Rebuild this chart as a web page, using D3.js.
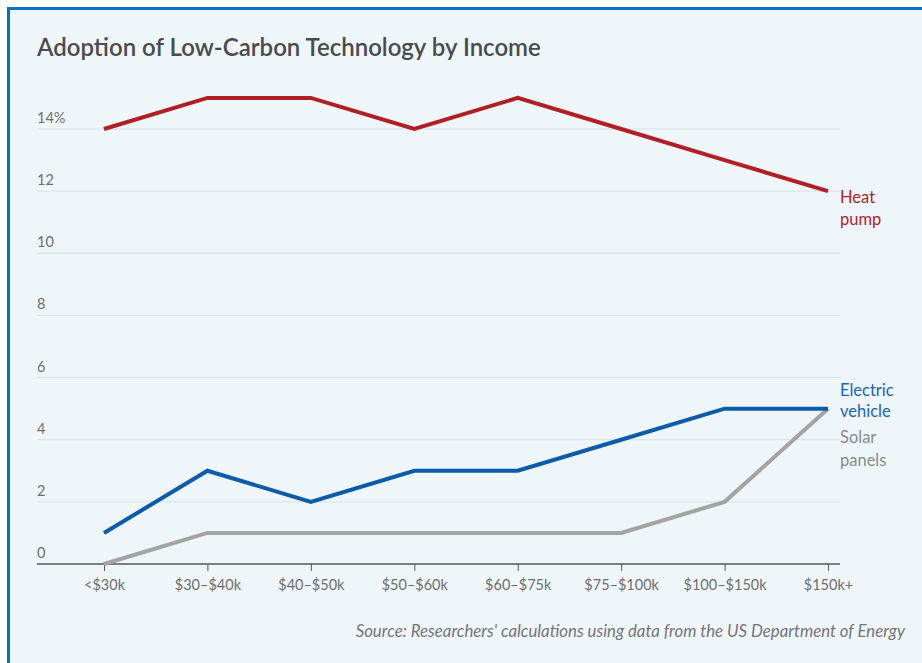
<!DOCTYPE html>
<html>
<head>
<meta charset="utf-8">
<script src="https://cdn.jsdelivr.net/npm/d3@7"></script>
<style>
  html, body { margin: 0; padding: 0; background: #ffffff; }
  svg { display: block; }
  text { font-family: "Source Sans Pro", "Lato", "Noto Sans", sans-serif; }
</style>
</head>
<body>
<svg id="chart" width="922" height="663"></svg>
<script>
// Income brackets along the x axis
const categories = ["<$30k", "$30–$40k", "$40–$50k", "$50–$60k", "$60–$75k", "$75–$100k", "$100–$150k", "$150k+"];

// Share of households adopting each technology (%)
const heatPump = [14, 15, 15, 14, 15, 14, 13, 12];
const electricVehicle = [1, 3, 2, 3, 3, 4, 5, 5];
const solarPanels = [0, 1, 1, 1, 1, 1, 2, 5];

const yTicks = [0, 2, 4, 6, 8, 10, 12, 14];

const seriesList = [
  { name: ["Heat", "pump"], values: heatPump, color: "#b01f24", labelColor: "#b0232a", labelY: [203, 225] },
  { name: ["Electric", "vehicle"], values: electricVehicle, color: "#0b5ca8", labelColor: "#1a64b0", labelY: [396, 417] },
  { name: ["Solar", "panels"], values: solarPanels, color: "#a3a3a3", labelColor: "#8a8a8a", labelY: [443, 466] }
];

const svg = d3.select("#chart");

// Panel background and frame
svg.append("rect").attr("x", 8.5).attr("y", 8.5).attr("width", 930).attr("height", 680)
  .attr("fill", "#eff6fa").attr("stroke", "#0a72c2").attr("stroke-width", 3);

svg.append("text").attr("x", 37).attr("y", 56)
  .attr("font-size", 24).attr("font-weight", 600).attr("fill", "#4b4b4d")
  .text("Adoption of Low-Carbon Technology by Income");

const x = d3.scalePoint().domain(categories).range([104, 828]);
const y = d3.scaleLinear().domain([0, 14]).range([564, 129]);

// Horizontal gridlines with labels sitting above them
const grid = svg.append("g");
grid.selectAll("line").data(yTicks.filter(d => d > 0)).join("line")
  .attr("x1", 37).attr("x2", 840)
  .attr("y1", d => y(d)).attr("y2", d => y(d))
  .attr("stroke", "#d9e0e6").attr("stroke-width", 1);

grid.selectAll("text").data(yTicks).join("text")
  .attr("x", 37).attr("y", d => y(d) - 6)
  .attr("font-size", 14.5).attr("fill", "#6e6e6e")
  .text(d => d === 14 ? "14%" : d);

// Bottom axis
const xAxis = d3.axisBottom(x).tickSize(7).tickPadding(9);
const gx = svg.append("g").attr("transform", `translate(0,${y(0)})`).call(xAxis);
gx.select(".domain").attr("d", "M37,0H840").attr("stroke", "#555").attr("stroke-width", 1.5);
gx.selectAll(".tick line").attr("stroke", "#555").attr("stroke-width", 1);
gx.selectAll(".tick text").attr("font-size", 14.5).attr("fill", "#6e6e6e")
  .attr("font-family", "\"Source Sans Pro\", \"Lato\", \"Noto Sans\", sans-serif");

// Series lines, drawn back to front
const line = d3.line().x((d, i) => x(categories[i])).y(d => y(d));
[...seriesList].reverse().forEach(s => {
  svg.append("path").datum(s.values)
    .attr("d", line)
    .attr("fill", "none").attr("stroke", s.color)
    .attr("stroke-width", 4).attr("stroke-linejoin", "miter").attr("stroke-linecap", "butt");
});

// Direct labels at the line ends
seriesList.forEach(s => {
  s.name.forEach((word, j) => {
    svg.append("text").attr("x", 840).attr("y", s.labelY[j])
      .attr("font-size", 16.5).attr("fill", s.labelColor).text(word);
  });
});

svg.append("text").attr("x", 905).attr("y", 637)
  .attr("text-anchor", "end").attr("font-size", 16.8).attr("font-style", "italic")
  .attr("fill", "#747474")
  .text("Source: Researchers' calculations using data from the US Department of Energy");
</script>
</body>
</html>
